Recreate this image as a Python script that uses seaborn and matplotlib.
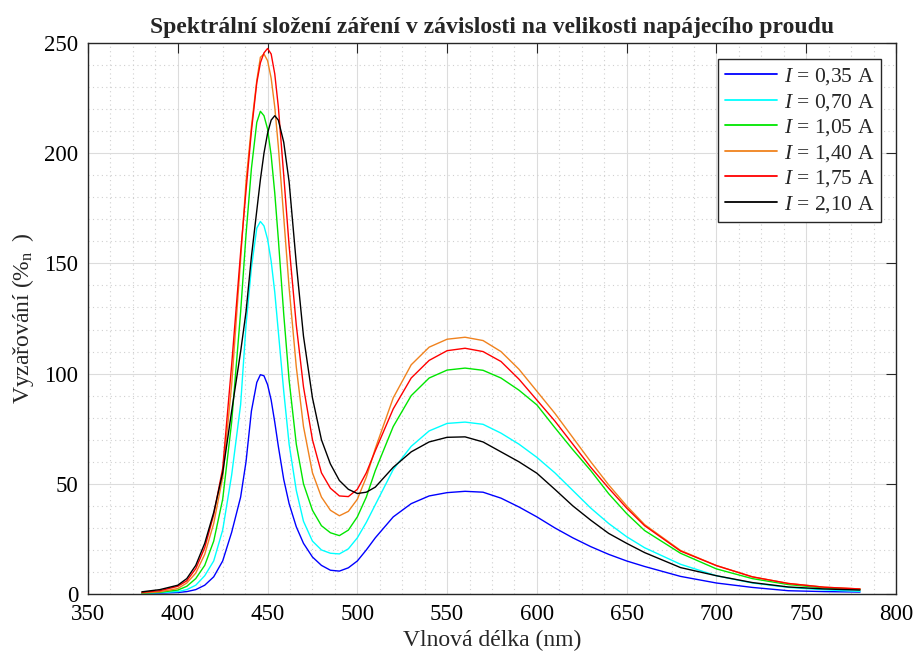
import numpy as np
import pandas as pd
import matplotlib
matplotlib.use("Agg")
import matplotlib.pyplot as plt
from matplotlib.ticker import MultipleLocator
import seaborn as sns

# Wavelength grid shared by all curves (nm)
wavelength = [380, 390, 400, 405, 410, 415, 420, 425, 430, 435, 438, 441, 444, 446,
              448, 450, 452, 454, 456, 459, 462, 466, 470, 475, 480, 485, 490, 495,
              500, 505, 510, 520, 530, 540, 550, 560, 570, 580, 590, 600, 610, 620,
              630, 640, 650, 660, 680, 700, 720, 740, 760, 780]

# Radiation (%n), one list per supply current
i_035 = [0.3, 0.4, 0.7, 1.1, 2, 4, 7.8, 15, 28, 44, 60, 83, 96, 99.5,
         99, 95, 88, 78, 67, 52, 41, 30.5, 23, 16.8, 13, 10.8, 10.4, 11.9,
         15, 20, 25.5, 35, 41, 44.5, 46, 46.6, 46.2, 43.5, 39.5, 35, 30, 25.5,
         21.5, 18, 15, 12.5, 8, 5, 3, 1.5, 1.1, 0.9]
i_070 = [0.3, 0.6, 1.1, 2, 4, 8.3, 15, 29, 54, 86, 122, 148, 166, 169,
         167, 161, 151, 137, 119, 92, 68, 47, 33, 24, 20, 18.5, 18.2, 20.5,
         25.5, 32.5, 40.5, 56.5, 67, 74, 77.4, 78, 77, 73, 68, 62, 55, 47,
         39, 32, 26, 21, 13.5, 8.3, 5, 3, 1.9, 1.2]
i_105 = [0.4, 0.8, 1.8, 3.5, 7, 13, 24, 43, 78, 128, 163, 193, 214, 219,
         217, 211, 199, 182, 161, 127, 97, 68, 50, 38, 31, 27.8, 26.5, 29,
         35, 44, 56, 76, 90, 98, 101.6, 102.5, 101.5, 98, 92.5, 85.8, 75.5, 65.5,
         56, 45.5, 36.5, 28.8, 18.5, 11.4, 7, 4.3, 2.8, 2.0]
i_140 = [0.5, 1, 2.5, 5, 9.5, 18, 32, 53, 95, 152, 187, 212, 233, 243.5,
         245, 242, 234, 221, 203, 171, 139, 103, 76, 55, 44, 38, 35.5, 37.5,
         43, 53, 66, 89, 104, 112, 115.6, 116.5, 115, 110, 102, 92, 82, 71,
         60, 49.5, 40, 31.5, 19.8, 12.9, 7.8, 4.8, 3.1, 2.3]
i_175 = [0.8, 1.5, 3.5, 6, 11.5, 21, 36, 57, 104, 155, 183, 210, 232, 241,
         245.5, 247.5, 245, 236, 221, 190, 158, 122, 94, 70, 55, 48, 44.5, 44.2,
         47.5, 55, 65, 84, 98, 106, 110.4, 111.5, 110, 105.5, 97.5, 88, 78.5, 68,
         57.5, 48, 39, 31, 19.5, 12.9, 7.8, 4.8, 3.1, 2.3]
i_210 = [1, 2, 4, 7, 13, 23, 37, 55, 83, 110, 128, 153, 174, 188,
         200, 209, 215, 217, 215, 205, 187, 150, 117, 89, 70, 59, 51.5, 47.5,
         45.6, 46.2, 48.5, 57.5, 64.5, 69, 71.1, 71.3, 69, 64.5, 60, 54.8, 47.5, 40,
         33.5, 27.5, 23, 18.8, 12, 8.3, 5.2, 3.2, 2.3, 1.8]

labels = ["$I$ = 0,35 A", "$I$ = 0,70 A", "$I$ = 1,05 A",
          "$I$ = 1,40 A", "$I$ = 1,75 A", "$I$ = 2,10 A"]
colors = ["#0000ff", "#00ffff", "#00e600", "#f0821e", "#ff0000", "#000000"]

series = [i_035, i_070, i_105, i_140, i_175, i_210]
frames = []
for label, values in zip(labels, series):
    frames.append(pd.DataFrame({"wl": wavelength, "val": values, "proud": label}))
df = pd.concat(frames, ignore_index=True)

sns.set_style("white")
plt.rcParams["font.family"] = ["Liberation Serif", "DejaVu Serif"]
plt.rcParams["mathtext.fontset"] = "custom"
plt.rcParams["mathtext.rm"] = "Liberation Serif"
plt.rcParams["mathtext.it"] = "Liberation Serif:italic"

fig = plt.figure(figsize=(9.15, 6.54), dpi=100)
ax = fig.add_axes([0.0962, 0.0917, 0.883, 0.8426])

sns.lineplot(data=df, x="wl", y="val", hue="proud", hue_order=labels,
             palette=colors, linewidth=1.0, sort=False, estimator=None, ax=ax)

ax.set_xlim(350, 800)
ax.set_ylim(0, 250)
ax.xaxis.set_major_locator(MultipleLocator(50))
ax.yaxis.set_major_locator(MultipleLocator(50))
ax.xaxis.set_minor_locator(MultipleLocator(12.5))
ax.yaxis.set_minor_locator(MultipleLocator(10))

ax.grid(which="major", color="#dcdcdc", linewidth=0.8, linestyle="-")
ax.grid(which="minor", color="#d0d0d0", linewidth=0.8, linestyle=(0, (1, 3)))
ax.set_axisbelow(True)

for side in ["top", "bottom", "left", "right"]:
    ax.spines[side].set_visible(True)
    ax.spines[side].set_color("#262626")
    ax.spines[side].set_linewidth(1.0)

ax.tick_params(which="major", direction="in", length=7, width=0.8,
               top=True, right=True, labelsize=16.5, colors="#262626", pad=7)
ax.tick_params(which="minor", length=0)
for lbl in ax.get_xticklabels() + ax.get_yticklabels():
    lbl.set_color("black")

ax.set_xlabel("Vlnová délka (nm)", fontsize=17, labelpad=4)
ax.set_ylabel("Vyzařování (%$_{\\mathrm{n}}\\;\\;$)", fontsize=17, labelpad=6)
ax.set_title("Spektrální složení záření v závislosti na velikosti napájecího proudu",
             fontsize=17, fontweight="bold", pad=7)

leg = ax.legend(loc="upper right", bbox_to_anchor=(0.9815, 0.97), fontsize=15.5,
                frameon=True, fancybox=False, framealpha=1, edgecolor="#262626",
                handlelength=2.4, handletextpad=0.35, borderpad=0.3,
                labelspacing=0.22, borderaxespad=0.0)
leg.get_frame().set_linewidth(1.0)
for line in leg.get_lines():
    line.set_linewidth(1.3)

fig.savefig("out.png", dpi=100)
